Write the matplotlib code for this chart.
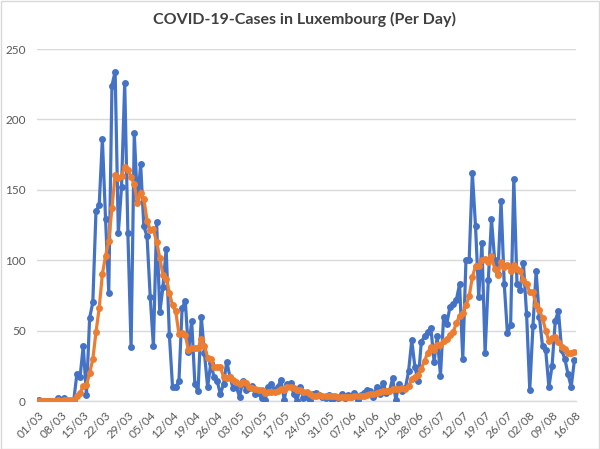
import matplotlib
matplotlib.use("Agg")
import matplotlib.pyplot as plt
from matplotlib.patches import Rectangle

# Daily new cases (01/03 .. 16/08)
daily_cases = [
    1, 0, 0, 0, 0, 0, 2, 0, 2, 0, 0, 0, 19, 17, 39, 4, 59, 70, 135, 139,
    186, 129, 77, 224, 234, 119, 152, 226, 119, 38, 190, 141, 168, 124, 117, 74, 39, 127, 63, 81,
    108, 47, 10, 10, 14, 66, 71, 35, 57, 12, 7, 60, 34, 10, 27, 17, 14, 5, 12, 28,
    17, 9, 10, 3, 14, 8, 9, 11, 5, 6, 2, 1, 10, 12, 8, 10, 15, 1, 12, 13,
    5, 0, 10, 2, 3, 1, 5, 6, 4, 3, 2, 4, 1, 3, 2, 5, 2, 4, 3, 6,
    1, 4, 6, 8, 7, 3, 10, 5, 13, 6, 7, 16, 1, 12, 7, 9, 21, 43, 24, 14,
    42, 46, 49, 52, 28, 46, 18, 60, 55, 67, 69, 72, 83, 30, 100, 100, 162, 124, 74, 112,
    34, 86, 129, 100, 90, 142, 83, 48, 54, 158, 83, 79, 98, 62, 8, 53, 92, 60, 39, 36,
    10, 25, 57, 64, 36, 30, 19, 10, 29,
]

# 7-day average series
weekly_avg = [
    0.1, 0.1, 0.1, 0.1, 0.1, 0.1, 0.4, 0.3, 0.6, 0.6, 0.6, 0.6, 3.3, 5.4, 11.0, 11.3, 19.7, 29.7, 49.0, 66.1,
    90.3, 103.1, 113.6, 137.1, 160.6, 158.3, 160.1, 165.9, 164.4, 158.9, 154.0, 140.7, 147.7, 143.7, 128.1, 121.7, 121.9, 112.9, 101.7, 89.3,
    87.0, 77.0, 67.9, 63.7, 47.6, 48.0, 46.6, 36.1, 37.6, 37.9, 37.4, 44.0, 39.4, 30.7, 29.6, 23.9, 24.1, 23.9, 17.0, 16.1,
    17.1, 14.6, 13.6, 12.0, 13.3, 12.7, 10.0, 9.1, 8.6, 8.0, 7.9, 6.0, 6.3, 6.7, 6.3, 7.0, 8.3, 8.1, 9.7, 10.1,
    9.1, 8.0, 8.0, 6.1, 6.4, 4.9, 3.7, 3.9, 4.4, 3.4, 3.4, 3.6, 3.6, 3.3, 2.7, 2.9, 2.7, 3.0, 2.9, 3.6,
    3.3, 3.6, 3.7, 4.6, 5.0, 5.0, 5.6, 6.1, 7.4, 7.4, 7.3, 8.6, 8.3, 8.6, 8.9, 8.3, 10.4, 15.6, 16.7, 18.6,
    22.9, 28.4, 34.1, 38.6, 36.4, 39.6, 40.1, 42.7, 44.0, 46.6, 49.0, 55.3, 60.6, 62.3, 68.0, 74.4, 88.0, 95.9, 96.1, 100.3,
    100.9, 98.9, 103.0, 94.1, 89.3, 99.0, 94.9, 96.9, 92.3, 96.4, 94.0, 92.4, 86.1, 83.1, 77.4, 77.3, 67.9, 64.6, 58.9, 50.0,
    42.6, 45.0, 45.6, 41.6, 38.1, 36.9, 34.4, 34.4, 35.0,
]

tick_labels = ['01/03', '08/03', '15/03', '22/03', '29/03', '05/04', '12/04', '19/04', '26/04',
               '03/05', '10/05', '17/05', '24/05', '31/05', '07/06', '14/06', '21/06', '28/06',
               '05/07', '12/07', '19/07', '26/07', '02/08', '09/08', '16/08']
y_ticks = [0, 50, 100, 150, 200, 250]
title = "COVID-19-Cases in Luxembourg (Per Day)"

plt.rcParams['font.family'] = ['Lato', 'DejaVu Sans']

fig = plt.figure(figsize=(6.0, 4.49), dpi=100)
ax = fig.add_axes([37/600, 48/449, 539/600, 352/449])

x = list(range(len(daily_cases)))
ax.plot(x, daily_cases, color='#4472C4', linewidth=2.3, marker='o', markersize=5,
        markeredgewidth=0, solid_joinstyle='round', zorder=3)
ax.plot(x, weekly_avg, color='#ED7D31', linewidth=2.3, marker='o', markersize=5,
        markeredgewidth=0, solid_joinstyle='round', zorder=4)

ax.set_xlim(-0.5, len(daily_cases) - 0.5)
ax.set_ylim(0, 250)
ax.set_yticks(y_ticks)
ax.set_xticks(list(range(0, len(daily_cases), 7)))
ax.set_xticklabels(tick_labels, rotation=45, ha='right', va='top', rotation_mode='anchor')

ax.grid(axis='y', color='#D9D9D9', linewidth=1.0, zorder=0)
ax.set_axisbelow(True)
for side in ['top', 'right', 'left']:
    ax.spines[side].set_visible(False)
ax.spines['bottom'].set_color('#D9D9D9')
ax.spines['bottom'].set_linewidth(1.0)
ax.tick_params(axis='both', length=0, colors='#595959', labelsize=8.5)
ax.tick_params(axis='y', pad=8)
ax.tick_params(axis='x', pad=6)

fig.text(0.508, 0.957, title, ha='center', va='center', fontsize=11.5,
         fontweight='bold', color='#404040')

fig.patches.append(Rectangle((0.5/600, 0.5/449), 1 - 1.5/600, 1 - 1.5/449,
                             transform=fig.transFigure, fill=False,
                             edgecolor='#D9D9D9', linewidth=1.0))

fig.savefig('out.png', dpi=100, facecolor='white')
